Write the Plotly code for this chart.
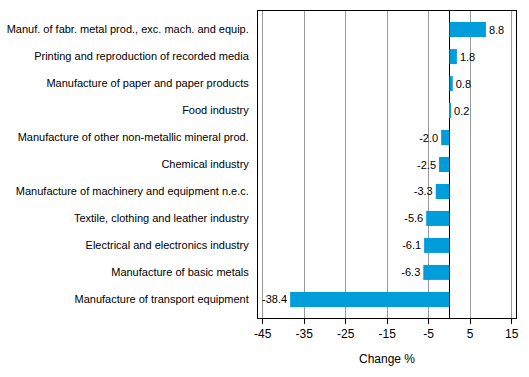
import plotly.graph_objects as go

categories = [
    "Manuf. of fabr. metal prod., exc. mach. and equip.",
    "Printing and reproduction of recorded media",
    "Manufacture of paper and paper products",
    "Food industry",
    "Manufacture of other non-metallic mineral prod.",
    "Chemical industry",
    "Manufacture of machinery and equipment n.e.c.",
    "Textile, clothing and leather industry",
    "Electrical and electronics industry",
    "Manufacture of basic metals",
    "Manufacture of transport equipment",
]
values = [8.8, 1.8, 0.8, 0.2, -2.0, -2.5, -3.3, -5.6, -6.1, -6.3, -38.4]
tick_vals = [-45, -35, -25, -15, -5, 5, 15]

fig = go.Figure(go.Bar(
    x=values, y=categories, orientation="h",
    marker=dict(color="#009ddb", line=dict(width=0)),
    width=0.556,
    text=[f"{v:.1f}" for v in values],
    textposition="outside",
    textfont=dict(family="Liberation Sans, Arial", size=11, color="black"),
    cliponaxis=False,
))

fig.update_layout(
    width=529, height=377,
    margin=dict(l=258, r=13, t=11, b=59, autoexpand=False),
    plot_bgcolor="white", paper_bgcolor="white",
    font=dict(family="Liberation Sans, Arial", size=11, color="black"),
    showlegend=False,
)
fig.update_xaxes(
    range=[-46.15, 16.05],
    tickvals=tick_vals, ticktext=[str(t) for t in tick_vals],
    showgrid=True, gridcolor="#999999", gridwidth=1,
    zeroline=True, zerolinecolor="black", zerolinewidth=1,
    showline=True, linecolor="black", linewidth=1, mirror=True,
    ticks="outside", ticklen=5, tickcolor="black",
    tickfont=dict(size=12),
    title=dict(text="Change %", font=dict(size=12), standoff=14),
    automargin=False,
)
fig.update_yaxes(
    range=[10.69, -0.69],
    categoryorder="array", categoryarray=categories,
    showline=True, linecolor="black", linewidth=1, mirror=True,
    ticks="", ticklabelstandoff=6,
    tickfont=dict(size=11),
    automargin=False,
)

fig.write_html(
    "out.html",
    config={"displayModeBar": False},
    post_script="document.body.style.margin='0';document.body.style.padding='0';",
)
